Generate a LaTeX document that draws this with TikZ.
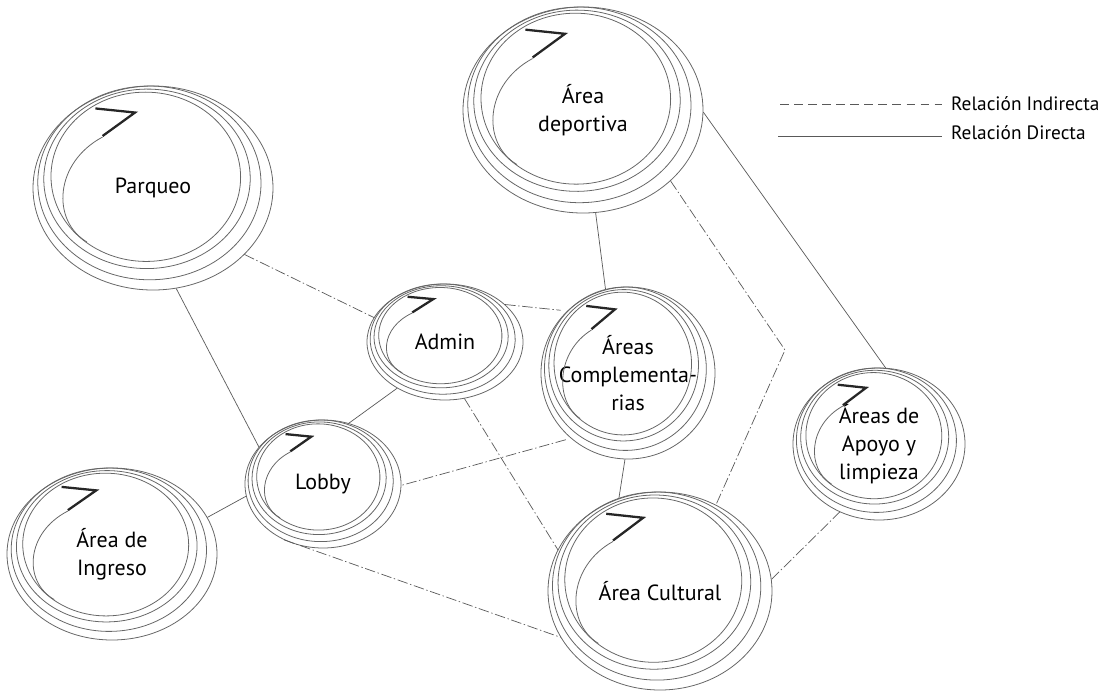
\documentclass[tikz,border=0pt]{standalone}
\usepackage{fontspec}
\setmainfont{PT Sans}
\usetikzlibrary{shapes.geometric}

\begin{document}
\begin{tikzpicture}[
    x=0.02cm, y=-0.02cm,
    bub/.style={ellipse, inner sep=0pt, align=center, font=\fontsize{12.5}{16}\selectfont},
    ring/.style={draw=black!60, line width=0.45pt},
    pen/.style={draw=black!85, line width=1.3pt, line join=miter},
    direct/.style={draw=black!65, line width=0.4pt},
    indirect/.style={direct, dash pattern=on 6pt off 1.5pt on 0.8pt off 1.5pt},
    legdash/.style={direct, dash pattern=on 5pt off 3pt},
    leg/.style={anchor=west, inner xsep=5pt, font=\fontsize{11}{13}\selectfont},
  ]
  \useasboundingbox (0,0) rectangle (1117,698);

  % bubbles
  \node[bub, minimum width=4.8cm, minimum height=4.08cm] (parqueo) at (153,188) {Parqueo};
  \node[bub, minimum width=4.8cm, minimum height=4.12cm] (deportiva) at (583,110) {Área\\deportiva};
  \node[bub, minimum width=3.12cm, minimum height=2.32cm] (admin) at (445,342) {Admin};
  \node[bub, minimum width=3.48cm, minimum height=3.44cm] (complem) at (628,373) {Áreas\\Complementa-\\rias};
  \node[bub, minimum width=3.12cm, minimum height=2.56cm] (lobby) at (323,484) {Lobby};
  \node[bub, minimum width=4.2cm, minimum height=3.44cm] (ingreso) at (112,554) {Área de\\Ingreso};
  \node[bub, minimum width=4.48cm, minimum height=3.96cm] (cultural) at (660,591) {Área Cultural};
  \node[bub, minimum width=3.44cm, minimum height=3.04cm] (apoyo) at (879,444) {Áreas de\\Apoyo y\\limpieza};

  % sketched loops round each bubble
  \foreach \n/\rx/\ry in {parqueo/120/102, deportiva/120/103, admin/78/58, complem/87/86,
                          lobby/78/64, ingreso/105/86, cultural/112/99, apoyo/86/76}{
    \begin{scope}[shift={(\n.center)}, xscale=\rx, yscale=\ry]
      \draw[ring] (0,0) circle [radius=1];
      \draw[ring] (-0.03,-0.05) ellipse [x radius=0.93, y radius=0.95, rotate=4];
      \draw[ring] (-0.05,-0.09) ellipse [x radius=0.86, y radius=0.88, rotate=-5];
      \draw[ring] (-0.06,-0.11) ellipse [x radius=0.79, y radius=0.83, rotate=3];
      \draw[ring] (-0.42,-0.5) .. controls (-0.82,-0.25) and (-0.85,0.32) .. (-0.55,0.53);
      \draw[pen] (-0.48,-0.78) -- (-0.15,-0.74) -- (-0.42,-0.51);
    \end{scope}
  }

  % relations
  \draw[indirect] (parqueo.-36) -- (admin.161);
  \draw[direct] (parqueo.-77) -- (lobby.150);
  \draw[direct] (admin.224) -- (lobby.67);
  \draw[indirect] (admin.-71) -- (cultural.158);
  \draw[indirect] (admin.32) -- (complem.137);
  \draw[direct] (deportiva.-83) -- (complem.105);
  \coordinate (kink) at (785,350);
  \draw[indirect] (deportiva.-39) -- (kink) -- (cultural.57);
  \draw[direct] (deportiva.-1) -- (apoyo.85);
  \draw[indirect] (complem.227) -- (lobby.-1);
  \draw[direct] (complem.-92) -- (cultural.114);
  \draw[direct] (lobby.189) -- (ingreso.21);
  \draw[indirect] (lobby.235) -- (cultural.205);
  \draw[indirect] (cultural.6) -- (apoyo.240);

  % legend
  \node[leg] (ind) at (942,104) {Relación Indirecta};
  \node[leg] (dir) at (942,133) {Relación Directa};
  \coordinate (ind-s) at (780,104);
  \coordinate (dir-s) at (778,136);
  \draw[legdash] (ind-s) -- (ind.west);
  \draw[direct] (dir-s) -- (dir.west |- dir-s);
\end{tikzpicture}
\end{document}
